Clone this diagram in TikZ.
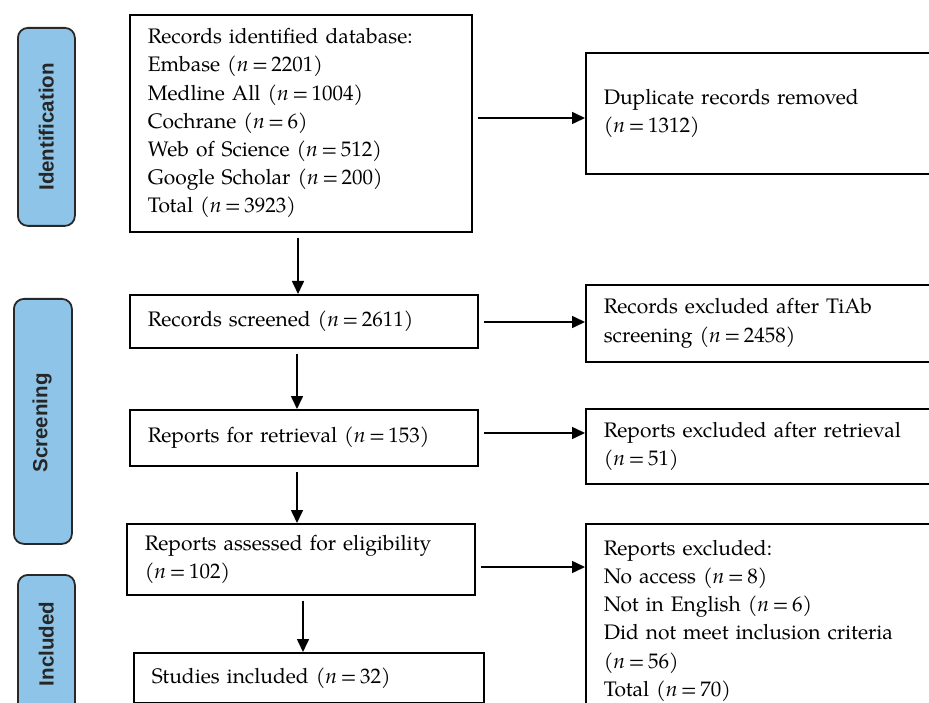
\documentclass[tikz,border=0pt]{standalone}
\usepackage{fontspec}
\setmainfont{TeX Gyre Pagella}
\newfontfamily\stagefont{Liberation Sans}
\usetikzlibrary{arrows.meta}
\definecolor{stagefill}{RGB}{142,196,232}
\definecolor{stageline}{RGB}{40,40,40}
\tikzset{
  flowbox/.style={draw=black, line width=1.6pt, anchor=north west, align=left,
    inner xsep=18pt, inner ysep=0pt, font=\fontsize{21}{28.2}\selectfont},
  stagebox/.style={draw=stageline, fill=stagefill, line width=1.8pt, rounded corners=10pt,
    anchor=north west, inner sep=0pt},
  stagetext/.style={rotate=90, font=\stagefont\bfseries\fontsize{20.5}{24}\selectfont, text=black!85},
  arr/.style={line width=1.6pt, -{Triangle[length=13pt,width=12pt]}, shorten <=5pt}
}
\newcommand{\nn}[1]{(\textit{n}\,=\,#1)}
\begin{document}
\begin{tikzpicture}[x=1pt,y=-1pt]
\useasboundingbox (0,0) rectangle (929,703);
\clip (0,0) rectangle (929,703);
% stage labels
\node[stagebox, minimum width=57pt, minimum height=198pt] (sid) at (17,27) {};
\node[stagetext] (tid) at (sid.center) {Identification};
\node[stagebox, minimum width=58pt, minimum height=245pt] (ssc) at (13,298) {};
\node[stagetext] (tsc) at (42,423) {Screening};
\node[stagebox, minimum width=57pt, minimum height=138pt] (sin) at (17,574) {};
\node[stagetext] (tin) at (sin.center) {Included};
% left column
\node[flowbox, text width=306pt, minimum height=217pt] (b1) at (129,14)
  {Records identified database:\\Embase \nn{2201}\\Medline All \nn{1004}\\Cochrane \nn{6}\\Web of Science \nn{512}\\Google Scholar \nn{200}\\Total \nn{3923}};
\node[flowbox, text width=312pt, minimum height=53pt] (b2) at (129,294)
  {Records screened \nn{2611}};
\node[flowbox, text width=312pt, minimum height=56pt] (b3) at (129,409)
  {Reports for retrieval \nn{153}};
\node[flowbox, text width=312pt, minimum height=71pt] (b4) at (126,523)
  {Reports assessed for eligibility\\\nn{102}};
\node[flowbox, text width=314pt, minimum height=50pt] (b5) at (133,652)
  {Studies included \nn{32}};
% right column
\node[flowbox, text width=324pt, minimum height=121pt] (r1) at (585,52)
  {Duplicate records removed\\\nn{1312}};
\node[flowbox, text width=324pt, minimum height=77pt] (r2) at (585,284)
  {Records excluded after TiAb\\screening \nn{2458}};
\node[flowbox, text width=324pt, minimum height=75pt] (r3) at (585,408)
  {Reports excluded after retrieval\\\nn{51}};
\node[flowbox, text width=324pt, minimum height=194pt] (r4) at (585,523)
  {Reports excluded:\\No access \nn{8}\\Not in English \nn{6}\\Did not meet inclusion criteria\\\nn{56}\\Total \nn{70}};
% guide coordinates
\coordinate (v1) at (298,0);
\coordinate (v2) at (297,0);
\coordinate (v3) at (303,0);
\coordinate (h1) at (0,118);
\coordinate (h2) at (0,322);
\coordinate (h3) at (0,433);
\coordinate (h4) at (0,567);
% vertical arrows
\draw[arr] (b1.south -| v1) -- (b2.north -| v1);
\draw[arr] (b2.south -| v2) -- (b3.north -| v2);
\draw[arr] (b3.south -| v2) -- (b4.north -| v2);
\draw[arr] (b4.south -| v3) -- (b5.north -| v3);
% horizontal arrows
\draw[arr] (b1.east |- h1) -- (r1.west |- h1);
\draw[arr] (b2.east |- h2) -- (r2.west |- h2);
\draw[arr] (b3.east |- h3) -- (r3.west |- h3);
\draw[arr] (b4.east |- h4) -- (r4.west |- h4);
\end{tikzpicture}
\end{document}
